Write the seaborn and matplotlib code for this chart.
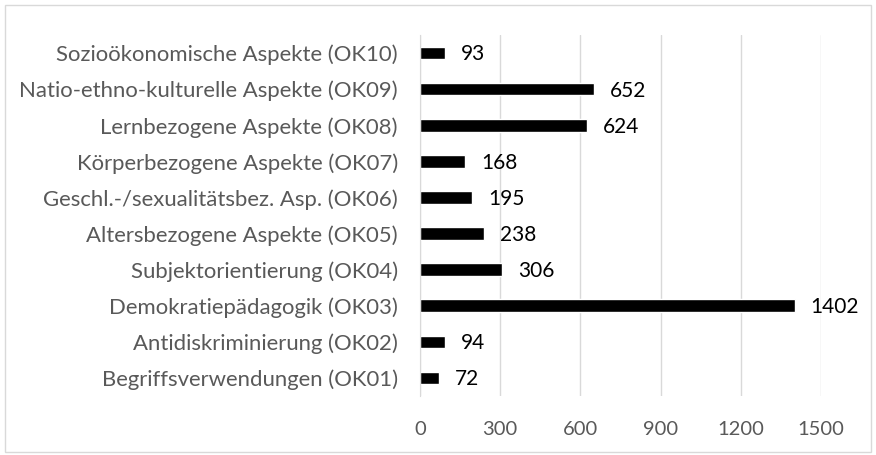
import matplotlib
matplotlib.use('Agg')
import matplotlib.pyplot as plt
import seaborn as sns
import pandas as pd
from matplotlib.patches import Rectangle

# Kategorien von oben nach unten
kategorien = [
    'Sozioökonomische Aspekte (OK10)',
    'Natio-ethno-kulturelle Aspekte (OK09)',
    'Lernbezogene Aspekte (OK08)',
    'Körperbezogene Aspekte (OK07)',
    'Geschl.-/sexualitätsbez. Asp. (OK06)',
    'Altersbezogene Aspekte (OK05)',
    'Subjektorientierung (OK04)',
    'Demokratiepädagogik (OK03)',
    'Antidiskriminierung (OK02)',
    'Begriffsverwendungen (OK01)',
]
anzahl = [93, 652, 624, 168, 195, 238, 306, 1402, 94, 72]
x_ticks = [0, 300, 600, 900, 1200, 1500]

df = pd.DataFrame({'kategorie': kategorien, 'anzahl': anzahl})

sns.set_style('white')
plt.rcParams['font.family'] = ['Lato', 'DejaVu Sans']

fig = plt.figure(figsize=(8.76, 4.55), dpi=100)
ax = fig.add_axes([0.4795, 0.1297, 0.4575, 0.7933])

sns.barplot(data=df, x='anzahl', y='kategorie', color='black',
            width=0.35, saturation=1, ax=ax)

# Werte neben den Balken
for i, v in enumerate(anzahl):
    ax.annotate(str(v), (v, i), xytext=(11.5, -1), textcoords='offset points',
                va='center', ha='left', fontsize=15, color='black')

ax.set_xlim(0, 1500)
ax.set_ylim(9.5, -0.5)
ax.set_xticks(x_ticks)
ax.set_xticklabels([str(x) for x in x_ticks])
ax.set_xlabel('')
ax.set_ylabel('')
ax.tick_params(axis='both', length=0, colors='#595959')
ax.tick_params(axis='x', pad=18, labelsize=14.5)
ax.tick_params(axis='y', pad=16, labelsize=15.9)

ax.grid(axis='x', color='#d9d9d9', linewidth=1)
ax.set_axisbelow(True)
for s in ['top', 'right', 'bottom']:
    ax.spines[s].set_visible(False)
ax.spines['left'].set_color('#d9d9d9')

# Rahmen um die Grafik
fig.patches.append(Rectangle((5 / 876, 3 / 455), 866 / 876, 447 / 455,
                             transform=fig.transFigure, fill=False,
                             edgecolor='#d9d9d9', linewidth=1))

plt.savefig('out.png', dpi=100)
